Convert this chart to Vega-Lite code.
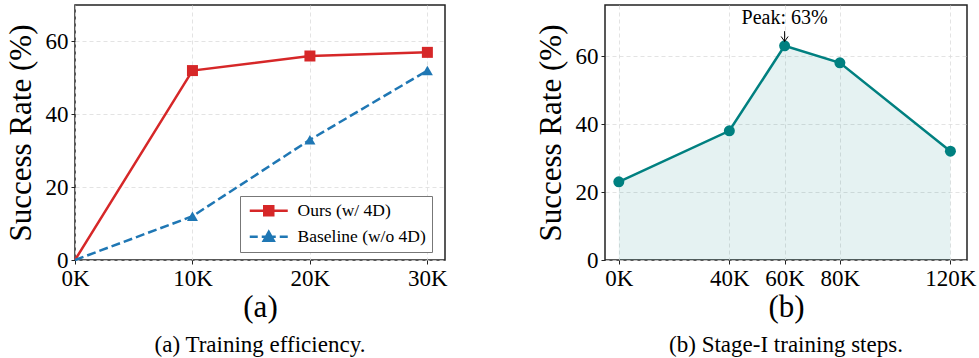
{
  "$schema": "https://vega.github.io/schema/vega-lite/v6.json",
  "padding": {"left": 4, "top": 4, "right": 5, "bottom": 0},
  "spacing": 86,
  "config": {
    "font": "Liberation Serif",
    "view": {"stroke": "#222", "strokeWidth": 1.5},
    "axis": {
      "labelFont": "Liberation Serif", "titleFont": "Liberation Serif",
      "labelFontSize": 23, "titleFontSize": 31, "titleFontWeight": "normal",
      "labelColor": "#000", "titleColor": "#000", "domain": false, "labelFlush": false,
      "tickColor": "#222", "tickSize": 4, "labelPadding": 3,
      "gridColor": "#dcdcdc", "gridDash": [4, 3], "gridWidth": 0.8
    },
    "title": {"font": "Liberation Serif", "fontSize": 23, "fontWeight": "normal", "color": "#000", "orient": "bottom", "offset": 12},
    "legend": {
      "labelFont": "Liberation Serif", "labelFontSize": 17.5, "labelColor": "#000",
      "strokeColor": "#777", "fillColor": "#fff", "padding": 6,
      "symbolSize": 100, "symbolOffset": 14, "labelOffset": 20, "rowPadding": 5,
      "symbolStrokeWidth": 2.5, "symbolOpacity": 1
    }
  },
  "hconcat": [
    {
      "width": 370, "height": 255,
      "title": {"text": "(a) Training efficiency.", "orient": "bottom"},
      "data": {"values": [
        {"step": 0, "rate": 0, "series": "Ours (w/ 4D)"},
        {"step": 10, "rate": 52, "series": "Ours (w/ 4D)"},
        {"step": 20, "rate": 56, "series": "Ours (w/ 4D)"},
        {"step": 30, "rate": 57, "series": "Ours (w/ 4D)"},
        {"step": 0, "rate": 0, "series": "Baseline (w/o 4D)"},
        {"step": 10, "rate": 12, "series": "Baseline (w/o 4D)"},
        {"step": 20, "rate": 33, "series": "Baseline (w/o 4D)"},
        {"step": 30, "rate": 52, "series": "Baseline (w/o 4D)"}
      ]},
      "encoding": {
        "x": {"field": "step", "type": "quantitative", "scale": {"domain": [0, 31.5], "nice": false, "zero": false},
              "axis": {"values": [0, 10, 20, 30], "labelExpr": "datum.value + 'K'", "title": "(a)", "titleFontSize": 31, "titlePadding": 2}},
        "y": {"field": "rate", "type": "quantitative", "scale": {"domain": [0, 70], "nice": false},
              "axis": {"values": [0, 20, 40, 60], "title": "Success Rate (%)", "titlePadding": 8}}
      },
      "layer": [
        {
          "transform": [{"filter": "datum.series === 'Ours (w/ 4D)'"}],
          "mark": {"type": "line", "strokeWidth": 2.5, "color": "#d62728"}
        },
        {
          "transform": [{"filter": "datum.series === 'Baseline (w/o 4D)'"}],
          "mark": {"type": "line", "strokeWidth": 2.5, "color": "#1f77b4", "strokeDash": [9, 4]}
        },
        {
          "transform": [{"filter": "datum.series === 'Ours (w/ 4D)' && datum.step > 0"}],
          "mark": {"type": "point", "filled": true, "shape": "square", "size": 121, "color": "#d62728", "opacity": 1}
        },
        {
          "transform": [{"filter": "datum.series === 'Baseline (w/o 4D)' && datum.step > 0"}],
          "mark": {"type": "point", "filled": true, "shape": "triangle-up", "size": 121, "color": "#1f77b4", "opacity": 1}
        },
        {
          "mark": {"type": "point", "filled": true, "opacity": 0},
          "encoding": {
            "fill": {"field": "series", "type": "nominal", "scale": {"domain": ["Ours (w/ 4D)", "Baseline (w/o 4D)"], "range": ["#d62728", "#1f77b4"]},
                     "legend": {"title": null, "orient": "none", "legendX": 165, "legendY": 191, "symbolOpacity": 1, "symbolStrokeWidth": 2.5}},
            "stroke": {"field": "series", "type": "nominal", "scale": {"domain": ["Ours (w/ 4D)", "Baseline (w/o 4D)"], "range": ["#d62728", "#1f77b4"]},
                     "legend": {"title": null, "orient": "none", "legendX": 165, "legendY": 191, "symbolOpacity": 1, "symbolStrokeWidth": 2.5}},
            "shape": {"field": "series", "type": "nominal", "scale": {"domain": ["Ours (w/ 4D)", "Baseline (w/o 4D)"], "range": ["M-3.8,0H3.8M-0.9,-0.9H0.9V0.9H-0.9Z", "M-3.8,0H-2.2M-1.4,0H1.4M2.2,0H3.8M0,-1L1,0.8H-1Z"]},
                     "legend": {"title": null, "orient": "none", "legendX": 165, "legendY": 191, "symbolOpacity": 1, "symbolStrokeWidth": 2.5}}
          }
        }
      ]
    },
    {
      "width": 362, "height": 255,
      "title": {"text": "(b) Stage-I training steps.", "orient": "bottom"},
      "encoding": {
        "x": {"field": "step", "type": "quantitative", "scale": {"domain": [-5, 126], "nice": false, "zero": false},
              "axis": {"values": [0, 40, 60, 80, 120], "labelExpr": "datum.value + 'K'", "title": "(b)", "titleFontSize": 31, "titlePadding": 2}},
        "y": {"field": "rate", "type": "quantitative", "scale": {"domain": [0, 75], "nice": false},
              "axis": {"values": [0, 20, 40, 60], "title": "Success Rate (%)", "titlePadding": 8}}
      },
      "layer": [
        {
          "data": {"values": [
            {"step": 0, "rate": 23}, {"step": 40, "rate": 38}, {"step": 60, "rate": 63}, {"step": 80, "rate": 58}, {"step": 120, "rate": 32}
          ]},
          "layer": [
            {"mark": {"type": "area", "color": "#008080", "opacity": 0.1}, "encoding": {}},
            {"mark": {"type": "line", "color": "#008080", "strokeWidth": 2.5}, "encoding": {}},
            {"mark": {"type": "point", "filled": true, "shape": "circle", "color": "#008080", "size": 121, "opacity": 1}, "encoding": {}}
          ]
        },
        {
          "data": {"values": [{"step": 60, "rate": 71.2, "label": "Peak: 63%"}]},
          "mark": {"type": "text", "fontSize": 20, "font": "Liberation Serif", "color": "#000"},
          "encoding": {"text": {"field": "label"}}
        },
        {
          "data": {"values": [{"step": 60, "rate": 67.3, "rate2": 64.3}]},
          "mark": {"type": "rule", "color": "#000", "strokeWidth": 1},
          "encoding": {"y2": {"field": "rate2"}}
        },
        {
          "data": {"values": [{"step": 60, "rate": 64.3}]},
          "mark": {"type": "point", "filled": false, "shape": "M-1,-1.4L0,0L1,-1.4", "color": "#000", "strokeWidth": 1, "size": 49, "opacity": 1},
          "encoding": {}
        }
      ]
    }
  ]
}
